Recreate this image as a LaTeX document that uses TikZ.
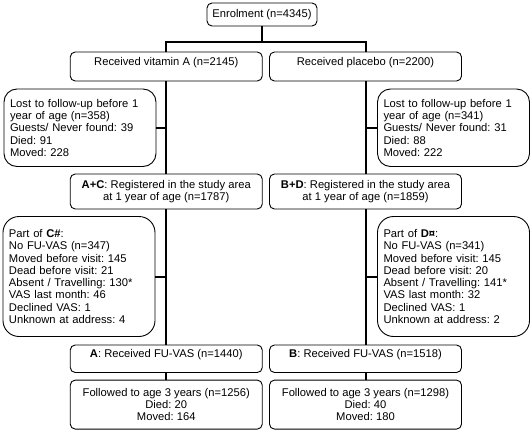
\documentclass[tikz,border=0pt]{standalone}
\usepackage{fontspec}
\setmainfont{Liberation Sans}
\usepackage{tikz}
\frenchspacing

\begin{document}
\begin{tikzpicture}[x=1pt,y=-1pt,
    font=\fontsize{11.2}{12.3}\selectfont\frenchspacing,
    box/.style={draw,line width=0.9pt,rounded corners=5pt,fill=white,inner sep=0pt},
    midbox/.style={box,minimum width=192pt,align=center},
    sidebox/.style={box,rounded corners=13pt,inner xsep=6pt,text width=140pt,align=left},
    link/.style={line width=2pt}]
    \useasboundingbox (0,0) rectangle (532,433);
    \node[box,minimum width=110pt,minimum height=23pt] (enrol) at (262,14.5) {Enrolment (n=4345)};
    \node[midbox,text height=13.5pt,text depth=15.5pt] (vitA) at (166.25,66.5) {Received vitamin A (n=2145)};
    \node[midbox,text height=13.5pt,text depth=15.5pt] (plac) at (365.5,66.5) {Received placebo (n=2200)};
    \node[sidebox,minimum height=77.5pt] (lostA) at (80,127.75) {Lost to follow-up before 1\\ year of age (n=358)\\ Guests/ Never found: 39\\ Died: 91\\ Moved: 228};
    \node[sidebox,minimum height=77.5pt] (lostB) at (453.5,127.75) {Lost to follow-up before 1\\ year of age (n=341)\\ Guests/ Never found: 31\\ Died: 88\\ Moved: 222};
    \node[midbox,minimum height=35pt] (regAC) at (166.25,191.5) {\textbf{A+C}: Registered in the study area\\ at 1 year of age (n=1787)};
    \node[midbox,minimum height=35pt] (regBD) at (365.5,191.5) {\textbf{B+D}: Registered in the study area\\ at 1 year of age (n=1859)};
    \node[sidebox,minimum height=120pt,rounded corners=16pt] (partC) at (79,276.5) {Part of \textbf{C\#}:\\ No FU-VAS (n=347)\\ Moved before visit: 145\\ Dead before visit: 21\\ Absent / Travelling: 130*\\ VAS last month: 46\\ Declined VAS: 1\\ Unknown at address: 4};
    \node[sidebox,minimum height=120pt,rounded corners=16pt] (partD) at (453.5,276.5) {Part of \textbf{D¤}:\\ No FU-VAS (n=341)\\ Moved before visit: 145\\ Dead before visit: 20\\ Absent / Travelling: 141*\\ VAS last month: 32\\ Declined VAS: 1\\ Unknown at address: 2};
    \node[midbox,text height=12.5pt,text depth=15pt] (fuA) at (166.25,358.75) {\textbf{A}: Received FU-VAS (n=1440)};
    \node[midbox,text height=12.5pt,text depth=15pt] (fuB) at (365.5,358.75) {\textbf{B}: Received FU-VAS (n=1518)};
    \node[midbox,minimum height=49pt] (follA) at (166.25,404.6) {Followed to age 3 years (n=1256)\\ Died: 20\\ Moved: 164};
    \node[midbox,minimum height=49pt] (follB) at (365.5,404.6) {Followed to age 3 years (n=1298)\\ Died: 40\\ Moved: 180};
    \coordinate (bus) at (262,42);
    \draw[link] (enrol) -- (bus);
    \draw[link] (vitA.north) |- (bus) -| (plac.north);
    \draw[link] (vitA) -- (regAC);
    \draw[link] (regAC) -- (fuA);
    \draw[link] (fuA) -- (follA);
    \draw[link] (plac) -- (regBD);
    \draw[link] (regBD) -- (fuB);
    \draw[link] (fuB) -- (follB);
    \draw[link] (lostA.east) -- (lostA.east -| vitA.south);
    \draw[link] (lostB.west) -- (lostB.west -| plac.south);
    \draw[link] (partC.east) -- (partC.east -| regAC.south);
    \draw[link] (partD.west) -- (partD.west -| regBD.south);
\end{tikzpicture}
\end{document}
